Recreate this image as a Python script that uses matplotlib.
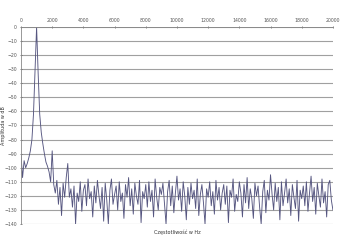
import numpy as np
import matplotlib
matplotlib.use('Agg')
import matplotlib.pyplot as plt

# frequency grid (Hz), 100 Hz steps
freqs = np.arange(0, 20001, 100)

# 0 .. 2000 Hz : low-frequency part with the 1 kHz peak
amp_low = [-91, -107, -95, -100, -97, -93, -88, -80, -62, -32,
           0, -33, -62, -75, -83, -90, -96, -99, -103, -110,
           -88]

# 2100 .. 20000 Hz : noise floor
amp_noise = [
    -112, -118, -109, -126, -114, -134, -111, -121, -107, -97,
    -121, -115, -128, -113, -140, -118, -124, -110, -131, -116,
    -112, -127, -108, -122, -117, -135, -113, -125, -109, -120,
    -129, -114, -138, -111, -123, -140, -116, -108, -126, -119,
    -113, -130, -110, -124, -118, -136, -112, -121, -107, -127,
    -115, -133, -111, -120, -126, -109, -139, -117, -122, -112,
    -128, -110, -124, -116, -135, -108, -121, -130, -114, -119,
    -111, -125, -140, -117, -109, -127, -113, -132, -118, -106,
    -123, -115, -131, -110, -120, -137, -114, -126, -111, -122,
    -116, -129, -108, -134, -119, -112, -125, -140, -115, -121,
    -110, -127, -117, -133, -109, -123, -114, -130, -118, -112,
    -126, -113, -139, -116, -121, -108, -131, -119, -124, -110,
    -118, -135, -112, -125, -107, -129, -115, -122, -136, -111,
    -120, -113, -128, -140, -117, -109, -132, -116, -123, -105,
    -119, -130, -111, -124, -114, -137, -110, -127, -118, -108,
    -125, -115, -134, -112, -121, -129, -109, -138, -116, -122,
    -113, -127, -110, -131, -118, -106, -124, -114, -133, -111,
    -120, -128, -108, -125, -117, -135, -112, -109, -123, -130,
]

amplitude = amp_low + amp_noise

x_ticks = list(range(0, 20001, 2000))
y_ticks = list(range(-140, 1, 10))

fig = plt.figure(figsize=(3.42, 2.5), dpi=100)
ax = fig.add_axes([0.0614, 0.104, 0.912, 0.788])

for y in y_ticks:
    ax.axhline(y, color='#a0a0a0', linewidth=0.8, zorder=1)

ax.plot(freqs, amplitude, color='#565680', linewidth=0.65, zorder=2)

ax.set_xlim(0, 20000)
ax.set_ylim(-140, 0)
ax.set_xticks(x_ticks)
ax.set_yticks(y_ticks)
ax.xaxis.tick_top()
ax.tick_params(axis='both', labelsize=3.3, colors='#555555', length=2,
               width=0.5, direction='inout', pad=2)

for s in ['right', 'bottom']:
    ax.spines[s].set_visible(False)
for s in ['top', 'left']:
    ax.spines[s].set_color('#888888')
    ax.spines[s].set_linewidth(0.6)

ax.set_xlabel('Częstotliwość w Hz', fontsize=3.5, color='#333333')
ax.xaxis.set_label_position('bottom')
ax.xaxis.set_label_coords(0.5, -0.03)
ax.set_ylabel('Amplituda w dB', fontsize=3.5, color='#333333')
ax.yaxis.set_label_coords(-0.048, 0.5)

fig.savefig('out.png', dpi=100)
